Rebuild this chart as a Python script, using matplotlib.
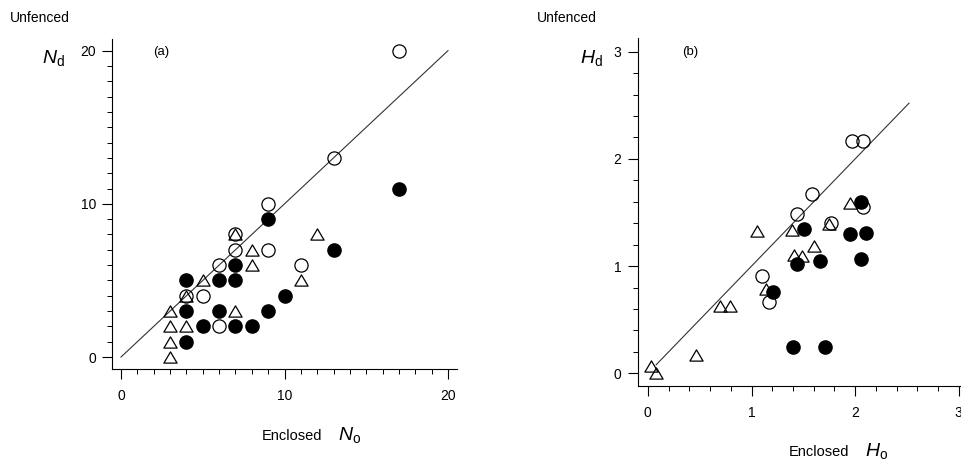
import matplotlib
matplotlib.use("Agg")
import matplotlib.pyplot as plt
from matplotlib.path import Path
from matplotlib.ticker import MultipleLocator

plt.rcParams['font.family'] = ['Liberation Sans', 'DejaVu Sans']
plt.rcParams['mathtext.fontset'] = 'custom'
plt.rcParams['mathtext.it'] = 'Liberation Sans:italic'
plt.rcParams['mathtext.rm'] = 'Liberation Sans'

# ---- panel (a): numbers, enclosed vs unfenced ----
a_open_x = [17, 13, 9, 7, 7, 9, 6, 11, 4, 5, 6]
a_open_y = [20, 13, 10, 8, 7, 7, 6, 6, 4, 4, 2]
a_fill_x = [17, 9, 13, 7, 4, 6, 7, 10, 4, 6, 9, 5, 7, 8, 4]
a_fill_y = [11, 9, 7, 6, 5, 5, 5, 4, 3, 3, 3, 2, 2, 2, 1]
a_tri_x = [7, 8, 12, 8, 11, 5, 4, 3, 7, 3, 4, 3, 3]
a_tri_y = [8, 7, 8, 6, 5, 5, 4, 3, 3, 2, 2, 1, 0]
a_line = [0, 20]

# ---- panel (b): diversity, enclosed vs unfenced ----
b_open_x = [1.97, 2.08, 1.58, 1.44, 2.08, 1.77, 1.10, 1.17]
b_open_y = [2.17, 2.17, 1.67, 1.49, 1.55, 1.40, 0.91, 0.67]
b_fill_x = [1.51, 2.06, 1.95, 2.10, 1.44, 1.66, 2.06, 1.21, 1.40, 1.71]
b_fill_y = [1.35, 1.60, 1.30, 1.31, 1.02, 1.05, 1.065, 0.76, 0.25, 0.25]
b_tri_x = [1.95, 1.05, 1.39, 1.75, 1.60, 1.41, 1.485, 1.14, 0.70, 0.79, 0.46, 0.035, 0.08]
b_tri_y = [1.59, 1.33, 1.34, 1.39, 1.19, 1.10, 1.09, 0.79, 0.63, 0.63, 0.17, 0.065, 0.0]
b_line = [0.08, 2.52]

W, H = 961, 462
fig = plt.figure(figsize=(W / 100, H / 100), dpi=100)

def px(x, y):
    return x / W, 1 - y / H

# equilateral-ish open triangle
tri = Path([(-1, -0.85), (1, -0.85), (0, 0.85), (-1, -0.85)],
           [Path.MOVETO, Path.LINETO, Path.LINETO, Path.CLOSEPOLY])

def style(ax, xmaj, xmin, ymaj, ymin):
    for s in ['top', 'right']:
        ax.spines[s].set_visible(False)
    for s in ['left', 'bottom']:
        ax.spines[s].set_linewidth(0.8)
    ax.xaxis.set_major_locator(MultipleLocator(xmaj))
    ax.xaxis.set_minor_locator(MultipleLocator(xmin))
    ax.yaxis.set_major_locator(MultipleLocator(ymaj))
    ax.yaxis.set_minor_locator(MultipleLocator(ymin))
    ax.tick_params(which='major', direction='out', length=7.5, width=0.8, labelsize=10)
    ax.tick_params(axis='x', which='major', pad=7)
    ax.tick_params(axis='y', which='major', pad=4)
    ax.tick_params(which='minor', direction='out', length=3.5, width=0.7)

def draw(ax, ox, oy, fx, fy, tx, ty, line):
    ax.plot(line, line, color='#333333', lw=0.8, zorder=1)
    ax.plot(tx, ty, linestyle='none', marker=tri, ms=9.5, mfc='none', mec='black', mew=0.9, zorder=2)
    ax.plot(ox, oy, linestyle='none', marker='o', ms=9.5, mfc='none', mec='black', mew=0.9, zorder=3)
    ax.plot(fx, fy, linestyle='none', marker='o', ms=9.5, mfc='black', mec='black', zorder=4)

# panel (a)
ax1 = fig.add_axes([112 / W, (H - 369) / H, 345 / W, 330 / H])
draw(ax1, a_open_x, a_open_y, a_fill_x, a_fill_y, a_tri_x, a_tri_y, a_line)
ax1.set_xlim(-0.55, 20.55)
ax1.set_ylim(-0.78, 20.76)
style(ax1, 10, 1, 10, 1)

# panel (b)
ax2 = fig.add_axes([637.5 / W, (H - 386) / H, 342 / W, 347.7 / H])
draw(ax2, b_open_x, b_open_y, b_fill_x, b_fill_y, b_tri_x, b_tri_y, b_line)
ax2.set_xlim(-0.10, 3.2)
ax2.set_ylim(-0.118, 3.125)
style(ax2, 1, 0.2, 1, 0.2)

# labels
fig.text(*px(10, 22), 'Unfenced', fontsize=10, va='baseline')
fig.text(*px(42, 63), r'$N_\mathrm{d}$', fontsize=14, va='baseline')
fig.text(*px(153, 52), '(a)', fontsize=9.5, va='center')
fig.text(*px(262, 440), 'Enclosed', fontsize=10.5, va='baseline')
fig.text(*px(338, 440), r'$N_\mathrm{o}$', fontsize=14, va='baseline')

fig.text(*px(537, 22), 'Unfenced', fontsize=10, va='baseline')
fig.text(*px(580, 63), r'$H_\mathrm{d}$', fontsize=14, va='baseline')
fig.text(*px(682, 52), '(b)', fontsize=9.5, va='center')
fig.text(*px(789, 456), 'Enclosed', fontsize=10.5, va='baseline')
fig.text(*px(865, 456), r'$H_\mathrm{o}$', fontsize=14, va='baseline')

fig.savefig('out.png', dpi=100)
